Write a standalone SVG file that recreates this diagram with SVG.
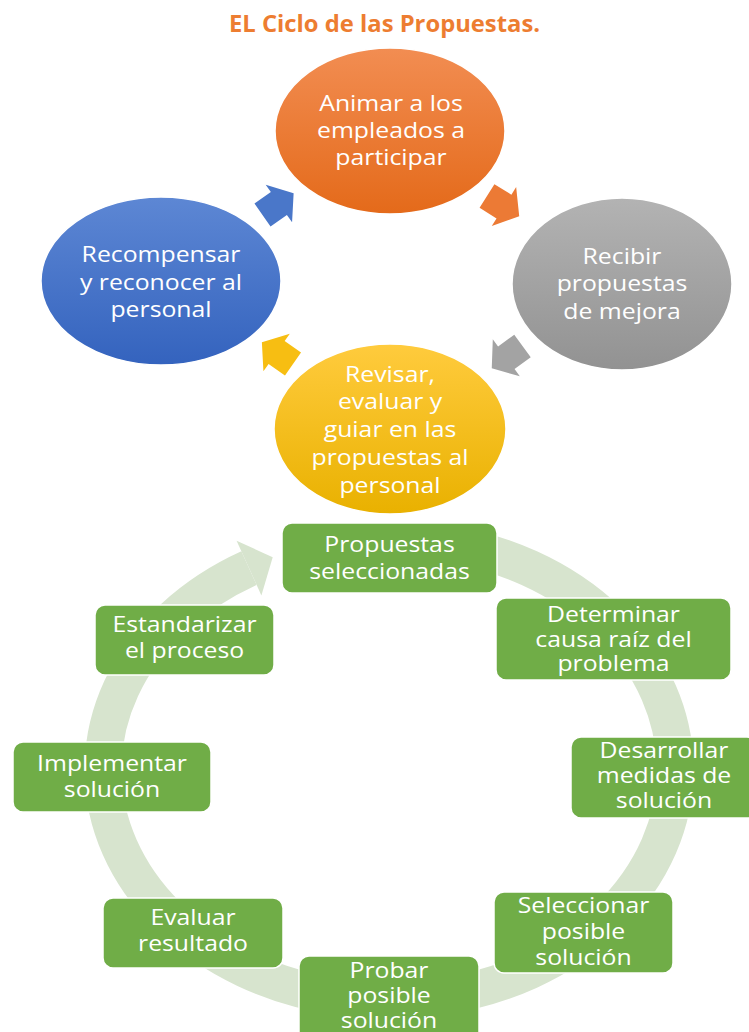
<svg xmlns="http://www.w3.org/2000/svg" width="749" height="1032" viewBox="0 0 749 1032">
  <style>
    .title { font-family: "Open Sans", "Liberation Sans", sans-serif; font-weight: bold; font-size: 23px; fill: #ED7D31; }
    .lbl { font-family: "Open Sans", "Liberation Sans", sans-serif; font-size: 21px; fill: #FFFFFF; text-anchor: middle; }
    .box { fill: #70AD47; stroke: #FFFFFF; stroke-width: 1.5; }
    .ell { stroke: #FFFFFF; stroke-width: 1.5; }
    .ring { fill: none; stroke: #D7E4CE; stroke-width: 37; stroke-linecap: butt; }
  </style>
  <defs>
    <linearGradient id="gOrange" x1="0" y1="0" x2="0" y2="1">
      <stop offset="0" stop-color="#F28D52"/>
      <stop offset="1" stop-color="#E46A1A"/>
    </linearGradient>
    <linearGradient id="gGray" x1="0" y1="0" x2="0" y2="1">
      <stop offset="0" stop-color="#B3B3B3"/>
      <stop offset="1" stop-color="#929292"/>
    </linearGradient>
    <linearGradient id="gBlue" x1="0" y1="0" x2="0" y2="1">
      <stop offset="0" stop-color="#5D87D4"/>
      <stop offset="1" stop-color="#3463BE"/>
    </linearGradient>
    <linearGradient id="gYellow" x1="0" y1="0" x2="0" y2="1">
      <stop offset="0" stop-color="#FFCB3D"/>
      <stop offset="1" stop-color="#E9B100"/>
    </linearGradient>
    <!-- block arrow pointing along +x, origin at the back of the shaft -->
    <polygon id="blk" points="0,-14 20,-14 20,-23 38,0 20,23 20,14 0,14"/>
  </defs>

  <text class="title" x="229" y="32" textLength="311" lengthAdjust="spacingAndGlyphs">EL Ciclo de las Propuestas.</text>

  <g id="connectors">
    <!-- improvement loop: wide elliptical band ending in an arrowhead -->
    <path class="ring" d="M438.7,542 A286,231 0 0 1 438.7,997 A286,231 0 0 1 249.0,568.1"/>
    <polygon points="261.4,595.4 272.7,557.3 236.6,540.7" fill="#D7E4CE"/>
    <!-- cycle arrows between the ellipses -->
    <use href="#blk" fill="#4A77C9" transform="translate(262.5 215) rotate(-35)"/>
    <use href="#blk" fill="#EC7A35" transform="translate(487 196) rotate(32)"/>
    <use href="#blk" fill="#A3A3A3" transform="translate(522.5 346) rotate(144)"/>
    <use href="#blk" fill="#F7BE12" transform="translate(293 364) rotate(215)"/>
  </g>

  <g id="animar">
    <ellipse class="ell" cx="390" cy="131" rx="115" ry="83" fill="url(#gOrange)"/>
    <text class="lbl" transform="translate(391 0) scale(1.18 1)"><tspan x="0" y="111">Animar a los</tspan><tspan x="0" y="138">empleados a</tspan><tspan x="0" y="165">participar</tspan></text>
  </g>

  <g id="recibir">
    <ellipse class="ell" cx="622" cy="284" rx="110" ry="86" fill="url(#gGray)"/>
    <text class="lbl" transform="translate(622 0) scale(1.18 1)"><tspan x="0" y="264">Recibir</tspan><tspan x="0" y="291">propuestas</tspan><tspan x="0" y="319">de mejora</tspan></text>
  </g>

  <g id="recompensar">
    <ellipse class="ell" cx="161" cy="281" rx="120" ry="84" fill="url(#gBlue)"/>
    <text class="lbl" transform="translate(161 0) scale(1.18 1)"><tspan x="0" y="262">Recompensar</tspan><tspan x="0" y="290">y reconocer al</tspan><tspan x="0" y="317">personal</tspan></text>
  </g>

  <g id="revisar">
    <ellipse class="ell" cx="390" cy="429" rx="116" ry="85" fill="url(#gYellow)"/>
    <text class="lbl" transform="translate(390 0) scale(1.18 1)"><tspan x="0" y="382">Revisar,</tspan><tspan x="0" y="409">evaluar y</tspan><tspan x="0" y="437">guiar en las</tspan><tspan x="0" y="465">propuestas al</tspan><tspan x="0" y="493">personal</tspan></text>
  </g>

  <g id="propuestas-seleccionadas">
    <rect class="box" x="282" y="523" width="215" height="70" rx="10"/>
    <text class="lbl" transform="translate(389.5 0) scale(1.18 1)"><tspan x="0" y="552">Propuestas</tspan><tspan x="0" y="579">seleccionadas</tspan></text>
  </g>

  <g id="determinar">
    <rect class="box" x="496" y="598" width="235" height="82" rx="10"/>
    <text class="lbl" transform="translate(613.5 0) scale(1.18 1)"><tspan x="0" y="622">Determinar</tspan><tspan x="0" y="647">causa raíz del</tspan><tspan x="0" y="671">problema</tspan></text>
  </g>

  <g id="desarrollar">
    <rect class="box" x="571" y="737" width="186" height="81" rx="10"/>
    <text class="lbl" transform="translate(664 0) scale(1.18 1)"><tspan x="0" y="758">Desarrollar</tspan><tspan x="0" y="783">medidas de</tspan><tspan x="0" y="808">solución</tspan></text>
  </g>

  <g id="seleccionar">
    <rect class="box" x="494" y="892" width="179" height="81" rx="10"/>
    <text class="lbl" transform="translate(583.5 0) scale(1.18 1)"><tspan x="0" y="913">Seleccionar</tspan><tspan x="0" y="939">posible</tspan><tspan x="0" y="965">solución</tspan></text>
  </g>

  <g id="probar">
    <rect class="box" x="299" y="956" width="180" height="90" rx="10"/>
    <text class="lbl" transform="translate(389 0) scale(1.18 1)"><tspan x="0" y="978">Probar</tspan><tspan x="0" y="1003">posible</tspan><tspan x="0" y="1028">solución</tspan></text>
  </g>

  <g id="evaluar">
    <rect class="box" x="103" y="898" width="180" height="70" rx="10"/>
    <text class="lbl" transform="translate(193 0) scale(1.18 1)"><tspan x="0" y="925">Evaluar</tspan><tspan x="0" y="951">resultado</tspan></text>
  </g>

  <g id="implementar">
    <rect class="box" x="13" y="742" width="198" height="70" rx="10"/>
    <text class="lbl" transform="translate(112 0) scale(1.18 1)"><tspan x="0" y="771">Implementar</tspan><tspan x="0" y="797">solución</tspan></text>
  </g>

  <g id="estandarizar">
    <rect class="box" x="95" y="605" width="179" height="70" rx="10"/>
    <text class="lbl" transform="translate(184.5 0) scale(1.18 1)"><tspan x="0" y="632">Estandarizar</tspan><tspan x="0" y="658">el proceso</tspan></text>
  </g>
</svg>
